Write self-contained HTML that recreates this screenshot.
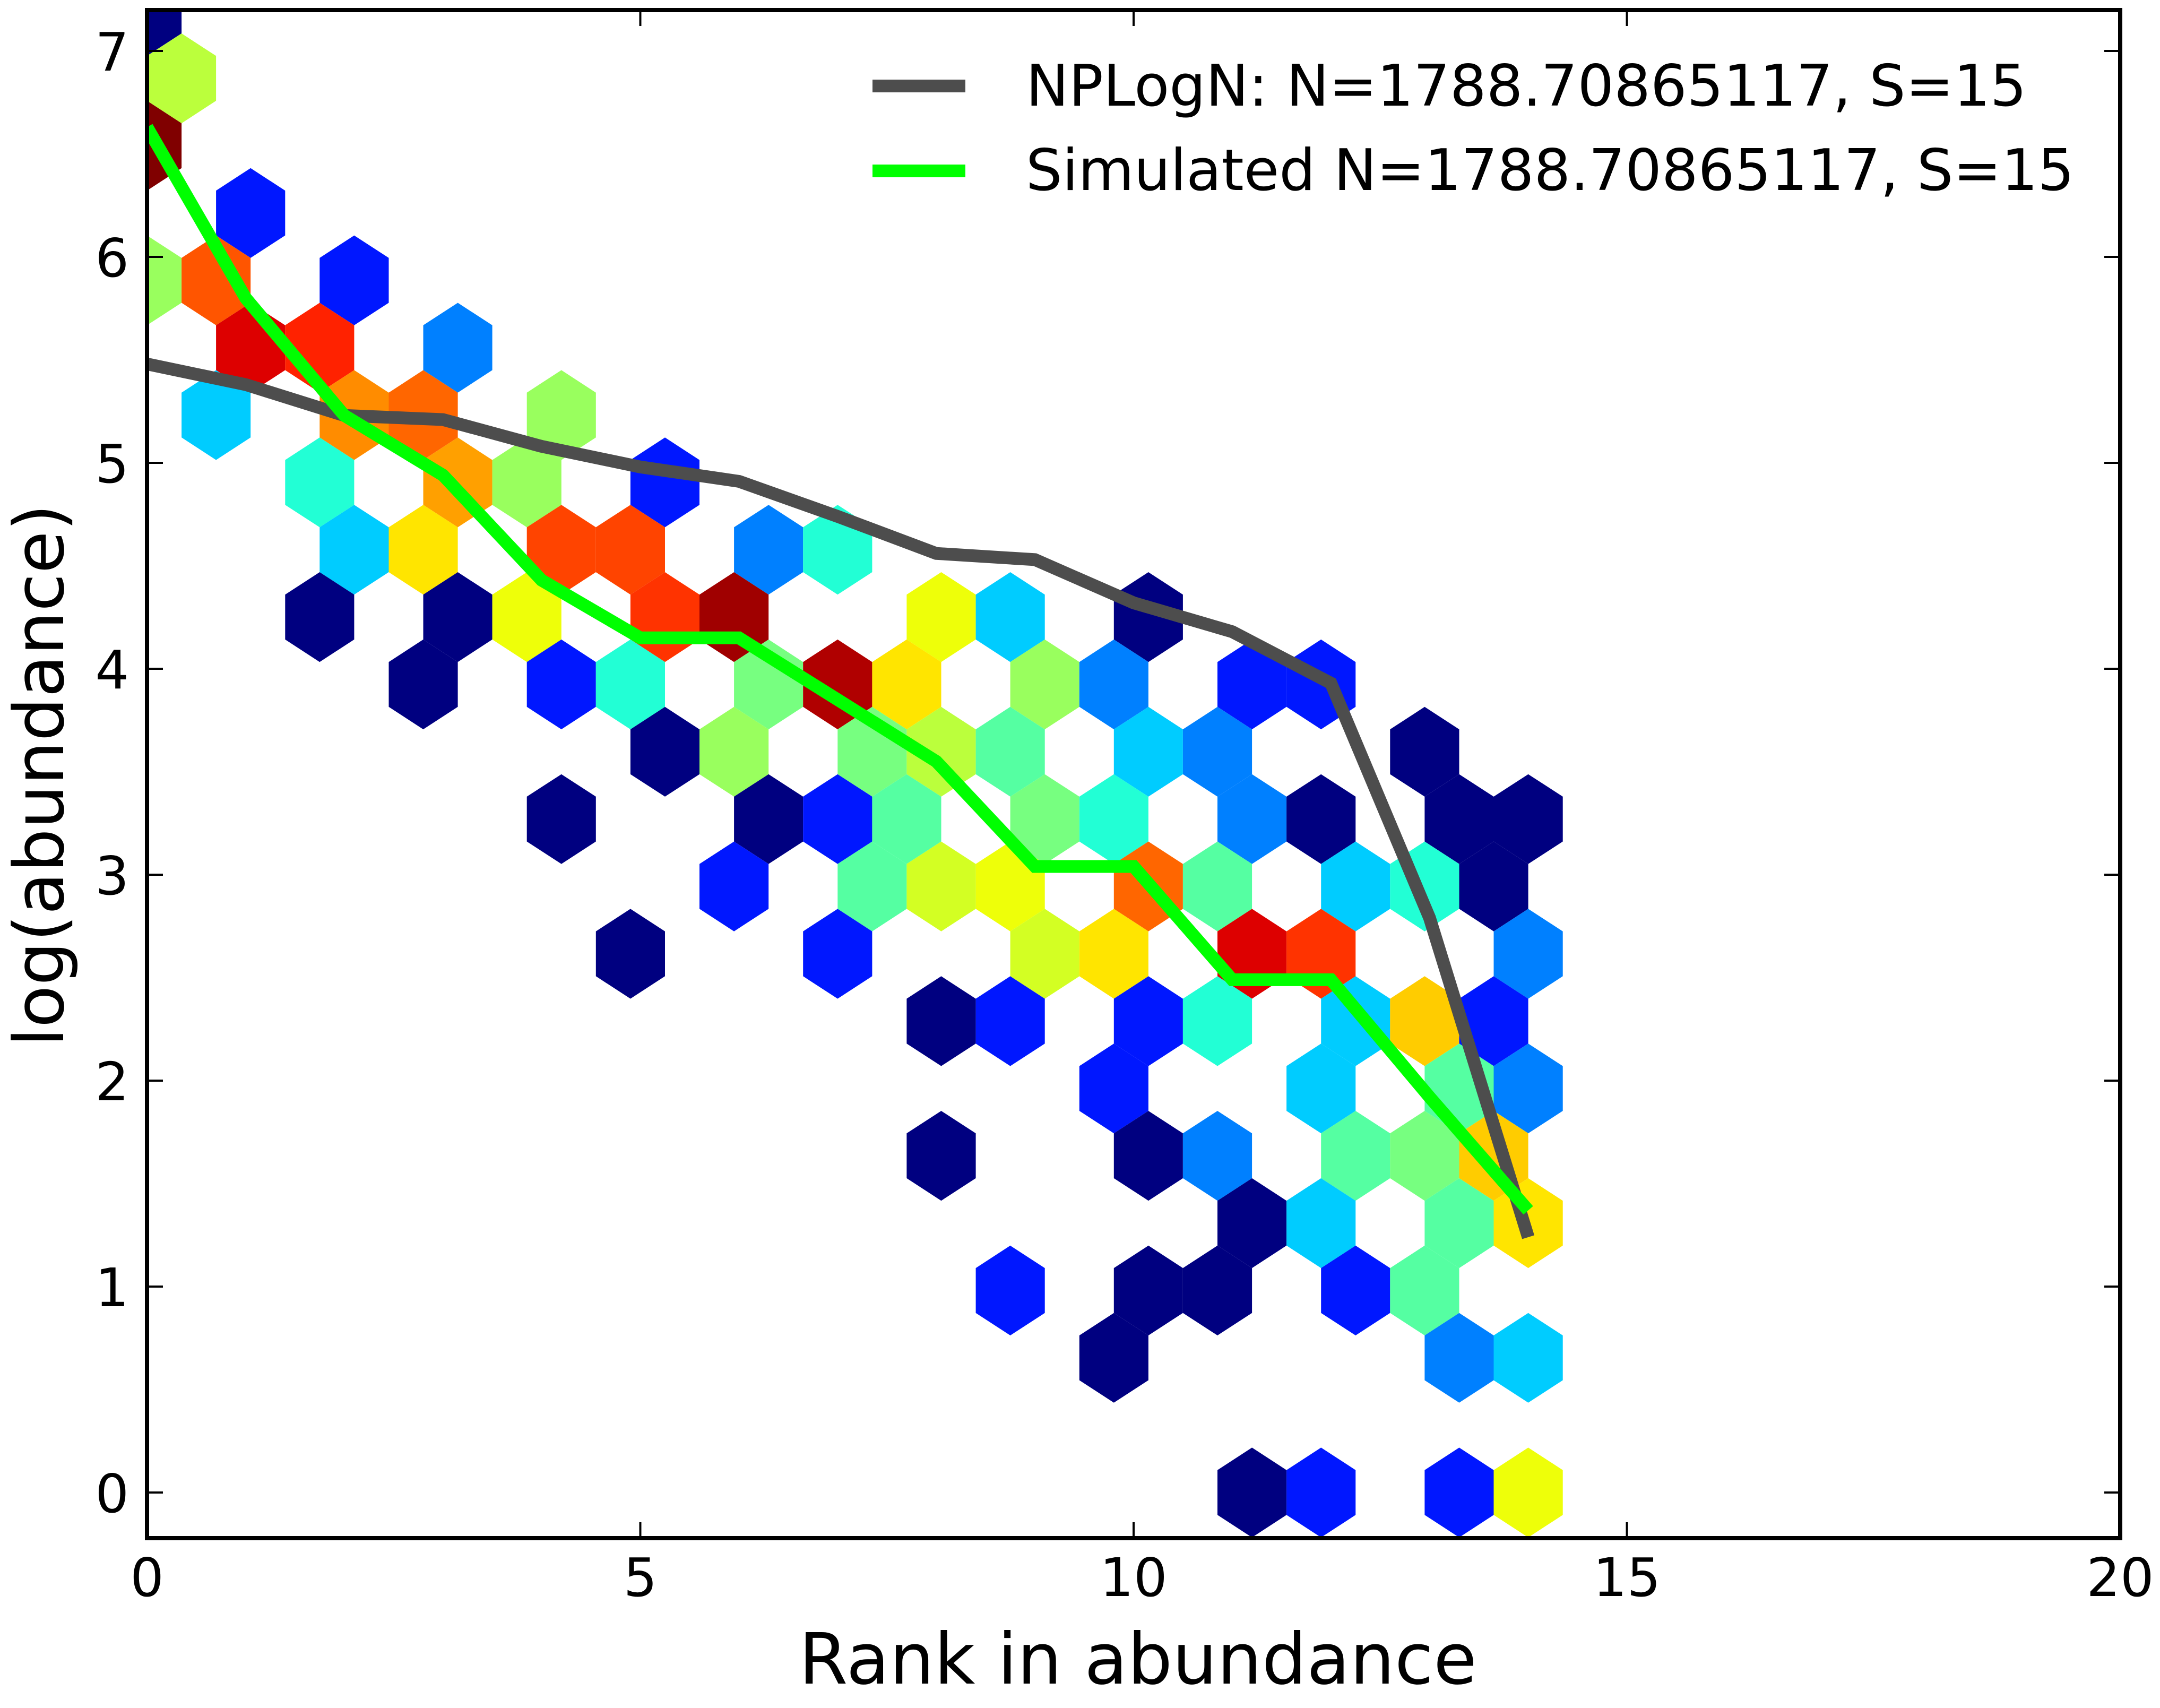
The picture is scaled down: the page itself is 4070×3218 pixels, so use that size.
<!DOCTYPE html>
<html><head><meta charset="utf-8"><style>
html,body{margin:0;padding:0;background:#fff;}
svg{display:block;font-family:"DejaVu Sans","Liberation Sans",sans-serif;}
</style></head><body>
<svg id="chart" width="4070" height="3218" viewBox="0 0 4070 3218" xmlns="http://www.w3.org/2000/svg">
<defs><clipPath id="plotclip"><rect x="277" y="19" width="3718" height="2879"/></clipPath></defs>
<rect x="0" y="0" width="4070" height="3218" fill="#fff"/>
<g id="hexes" clip-path="url(#plotclip)"></g>
<g id="lines" clip-path="url(#plotclip)"></g>
<g id="axes"></g>
<text x="2144" y="3172" font-size="133" text-anchor="middle">Rank in abundance</text>
<text x="0" y="0" font-size="130" text-anchor="middle" transform="translate(119,1461) rotate(-90)">log(abundance)</text>
<g>
<line x1="1644" y1="162" x2="1819" y2="162" stroke="#4d4d4d" stroke-width="24"/>
<text x="1933" y="199" font-size="108">NPLogN: N=1788.70865117, S=15</text>
<line x1="1644" y1="322" x2="1819" y2="322" stroke="#00ff00" stroke-width="24"/>
<text x="1933" y="358" font-size="108">Simulated N=1788.70865117, S=15</text>
</g>
</svg>
<script>
// hexbin cell grid columns (x = col*0.35), rows (y = row*0.327), and colour values (0..1 of jet)
const hexCols = [0,1,0,3,0,2,6,3,5,9,2,6,8,12,5,9,11,15,6,8,12,14,18,20,5,9,11,15,17,23,25,29,8,12,14,18,20,22,26,28,32,34,15,17,21,23,25,29,31,37,12,18,20,22,26,28,32,34,38,40,17,21,23,25,29,31,35,37,39,14,20,26,28,32,34,40,23,25,29,31,35,37,39,28,34,38,40,23,29,31,35,37,39,32,34,38,40,25,29,31,35,37,28,38,40,32,34,38,40];
const hexRows = [22,21,20,19,18,18,18,17,17,17,16,16,16,16,15,15,15,15,14,14,14,14,14,14,13,13,13,13,13,13,13,13,12,12,12,12,12,12,12,12,12,12,11,11,11,11,11,11,11,11,10,10,10,10,10,10,10,10,10,10,9,9,9,9,9,9,9,9,9,8,8,8,8,8,8,8,7,7,7,7,7,7,7,6,6,6,6,5,5,5,5,5,5,4,4,4,4,3,3,3,3,3,2,2,2,0,0,0,0];
const hexValues = [0,0.577,1.0,0.148,0.536,0.82,0.148,0.919,0.874,0.25,0.325,0.762,0.802,0.536,0.391,0.741,0.536,0.148,0.325,0.667,0.838,0.838,0.25,0.391,0,0,0.639,0.856,0.972,0.639,0.325,0,0,0.148,0.391,0.495,0.958,0.667,0.536,0.25,0.148,0.148,0,0.536,0.495,0.577,0.453,0.325,0.25,0,0,0,0.148,0.453,0.495,0.391,0.25,0,0,0,0.148,0.453,0.607,0.639,0.802,0.453,0.325,0.391,0,0,0.148,0.607,0.667,0.919,0.856,0.25,0,0.148,0.148,0.391,0.325,0.694,0.148,0.148,0.325,0.453,0.25,0,0,0.25,0.453,0.495,0.694,0,0.325,0.453,0.667,0.148,0,0,0.148,0.453,0,0.25,0.325,0,0.148,0.148,0.639];
// line series
const rankX = [0,1,2,3,4,5,6,7,8,9,10,11,12,13,14];
const nplognY = [5.48,5.38,5.23,5.21,5.08,4.98,4.91,4.74,4.56,4.53,4.32,4.18,3.93,2.79,1.24];
const simulatedY = [6.63,5.80,5.23,4.94,4.43,4.15,4.15,3.85,3.55,3.04,3.04,2.49,2.49,1.92,1.37];
const xTicks = [0,5,10,15,20];
const yTicks = [0,1,2,3,4,5,6,7];

const NS="http://www.w3.org/2000/svg";
const X0=277, XS=185.9, Y0=2812, YS=388, LEFT=277, RIGHT=3995, TOP=19, BOTTOM=2898;
function xp(v){return X0+v*XS;}
function yp(v){return Y0-v*YS;}
function interp(pts,t){for(let i=1;i<pts.length;i++){if(t<=pts[i][0]){const a=pts[i-1],b=pts[i];return a[1]+(b[1]-a[1])*(t-a[0])/(b[0]-a[0]);}}return pts[pts.length-1][1];}
function jet(t){
 const r=interp([[0,0],[0.35,0],[0.66,1],[0.89,1],[1,0.5]],t);
 const g=interp([[0,0],[0.125,0],[0.375,1],[0.64,1],[0.91,0],[1,0]],t);
 const b=interp([[0,0.5],[0.11,1],[0.34,1],[0.65,0],[1,0]],t);
 return `rgb(${Math.round(r*255)},${Math.round(g*255)},${Math.round(b*255)})`;
}
const SX=0.7, SY=0.654;
const hg=document.getElementById('hexes');
for(let i=0;i<hexCols.length;i++){
 const cx=hexCols[i]*SX/2, cy=hexRows[i]*SY/2;
 const v=[[0.5,-0.5],[0.5,0.5],[0,1],[-0.5,0.5],[-0.5,-0.5],[0,-1]];
 const pts=v.map(p=>xp(cx+p[0]*SX).toFixed(1)+','+yp(cy+p[1]*SY/3).toFixed(1)).join(' ');
 const poly=document.createElementNS(NS,'polygon');
 poly.setAttribute('points',pts);
 poly.setAttribute('fill',jet(hexValues[i]));
 
 
 hg.appendChild(poly);
}
const lg=document.getElementById('lines');
function drawLine(ys,color,name){
 const p=document.createElementNS(NS,'polyline');
 p.setAttribute('points',rankX.map((x,i)=>xp(x).toFixed(1)+','+yp(ys[i]).toFixed(1)).join(' '));
 p.setAttribute('fill','none');p.setAttribute('stroke',color);p.setAttribute('stroke-width','24');
 p.setAttribute('stroke-linejoin','miter');
 
 
 lg.appendChild(p);
}
drawLine(nplognY,'#4d4d4d','nplogn-line');
drawLine(simulatedY,'#00ff00','simulated-line');

const ag=document.getElementById('axes');
function mk(tag,attrs){const e=document.createElementNS(NS,tag);for(const k in attrs)e.setAttribute(k,attrs[k]);ag.appendChild(e);return e;}
const frame=mk('rect',{x:LEFT,y:TOP,width:RIGHT-LEFT,height:BOTTOM-TOP,fill:'none',stroke:'#000','stroke-width':8});


xTicks.forEach(t=>{
 const x=xp(t);
 const a=mk('line',{x1:x,y1:BOTTOM,x2:x,y2:BOTTOM-30,stroke:'#000','stroke-width':4});
 
 
 const b=mk('line',{x1:x,y1:TOP,x2:x,y2:TOP+30,stroke:'#000','stroke-width':4});
 
 
 const l=mk('text',{x:x,y:3007,'font-size':100,'text-anchor':'middle'});
 l.textContent=t;
 
 
});
yTicks.forEach(t=>{
 const y=yp(t);
 const a=mk('line',{x1:LEFT,y1:y,x2:LEFT+30,y2:y,stroke:'#000','stroke-width':4});
 
 
 const b=mk('line',{x1:RIGHT,y1:y,x2:RIGHT-30,y2:y,stroke:'#000','stroke-width':4});
 
 
 const l=mk('text',{x:243,y:y+37,'font-size':100,'text-anchor':'end'});
 l.textContent=t;
 
 
});
</script>
</body></html>
